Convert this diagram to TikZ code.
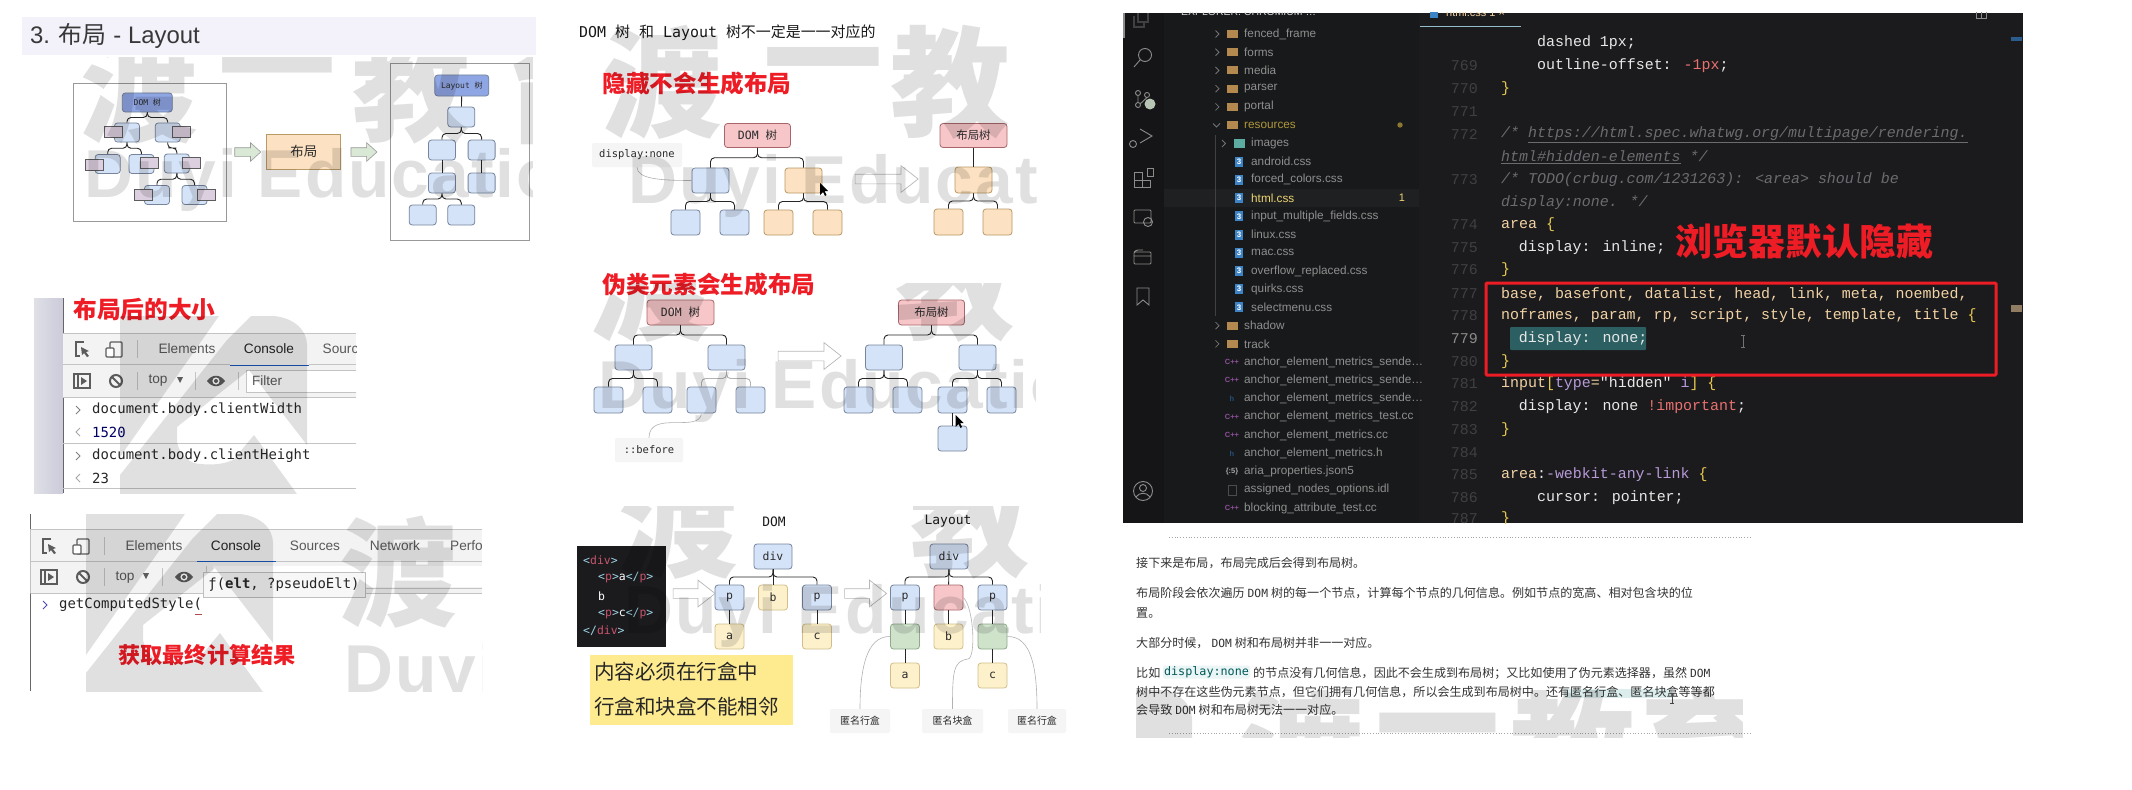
\documentclass[tikz,border=0pt]{standalone}
\usepackage{fontspec}
\setmainfont{Liberation Sans}
\setmonofont{DejaVu Sans Mono}
\newfontfamily\cjk{Noto Sans CJK SC}
\newfontfamily\cjkheavy{Noto Sans CJK SC Black}
\newfontfamily\codefont{Liberation Mono}
\newfontfamily\markfont[LetterSpace=3]{Liberation Sans}
\usetikzlibrary{calc,shapes.arrows}
\newcommand\sz[1]{\fontsize{#1}{#1}\selectfont}
\newcommand\cn[1]{{\cjk #1}}
\newcommand\dom{\hspace{3bp}{\ttfamily\sz{11.3}DOM}\hspace{3bp}}
\newcommand\sendename{anchor\_element\_metrics\_sende\ldots}
\definecolor{inkgray}{HTML}{2B2B2B}
\definecolor{barlilac}{HTML}{F3F1FA}
\definecolor{nodeblue}{HTML}{D5E3F8}
\definecolor{edgeblue}{HTML}{76849C}
\definecolor{nodedeep}{HTML}{8FA6E4}
\definecolor{nodepink}{HTML}{F6C6C8}
\definecolor{edgepink}{HTML}{A8666A}
\definecolor{nodeorange}{HTML}{FCE1C2}
\definecolor{edgeorange}{HTML}{B89A66}
\definecolor{nodeyellow}{HTML}{FDF1CC}
\definecolor{edgeyellow}{HTML}{D2BE88}
\definecolor{nodegreen}{HTML}{CFE3CB}
\definecolor{edgegreen}{HTML}{8FA98A}
\definecolor{overlaypurple}{HTML}{DCCFE0}
\definecolor{flagred}{HTML}{EE1C25}
\definecolor{toolgray}{HTML}{F3F3F3}
\definecolor{toolline}{HTML}{C4C4C4}
\definecolor{tabblue}{HTML}{1A55B8}
\definecolor{iconink}{HTML}{5C5C5C}
\definecolor{darkbg}{HTML}{1B1B1D}
\definecolor{darkside}{HTML}{18191B}
\definecolor{darkactivity}{HTML}{151517}
\definecolor{sidetext}{HTML}{8F8F8F}
\definecolor{foldertan}{HTML}{B4894F}
\definecolor{cssblue}{HTML}{3D84C6}
\definecolor{lineno}{HTML}{404044}
\definecolor{codetan}{HTML}{F2D2A4}
\definecolor{codegold}{HTML}{E9C94E}
\definecolor{codewhite}{HTML}{E8E8E8}
\definecolor{codegray}{HTML}{6C6C70}
\definecolor{codepurple}{HTML}{B79AD8}
\definecolor{coderose}{HTML}{E8716F}
\definecolor{tagred}{HTML}{C8546E}
\definecolor{tagcyan}{HTML}{9FD6E8}
\definecolor{notepurple}{HTML}{8E4E9A}
\definecolor{notefill}{HTML}{FFEB8F}
\definecolor{selectteal}{HTML}{2C5F62}
\tikzset{
  boxsize/.style 2 args={minimum width=#1bp,minimum height=#2bp},
  treebox/.style={draw,rounded corners=3bp,line width=.8bp,inner sep=0pt,text=inkgray},
  bluebox/.style={treebox,fill=nodeblue,draw=edgeblue},
  deepbox/.style={treebox,fill=nodedeep,draw=edgeblue},
  pinkbox/.style={treebox,fill=nodepink,draw=edgepink},
  orangebox/.style={treebox,fill=nodeorange,draw=edgeorange},
  yellowbox/.style={treebox,fill=nodeyellow,draw=edgeyellow},
  greenbox/.style={treebox,fill=nodegreen,draw=edgegreen},
  purplebox/.style={draw=iconink,line width=.6bp,fill=overlaypurple,inner sep=0pt},
  framebox/.style={draw=black!40,line width=.7bp,inner sep=0pt},
  tag/.style={fill=black!4,rounded corners=2bp,inner sep=0pt,text=inkgray},
  treelink/.style={draw=black!85,line width=.9bp,rounded corners=4bp},
  bus/.style={to path={(\tikztostart) |- ($(\tikztostart)!.5!(\tikztotarget)$) -| (\tikztotarget)}},
  plainlink/.style={draw=black!85,line width=.9bp},
  faintlink/.style={draw=black!30,line width=.9bp,rounded corners=4bp},
  noteline/.style={draw=black!30,line width=.6bp},
  hollowarrow/.style={single arrow,draw=black!28,fill=white,line width=.7bp,inner xsep=0pt,inner ysep=4.5bp,
    single arrow head extend=8.5bp,single arrow tip angle=76,boxsize={26}{63}},
  greenarrow/.style={single arrow,draw=black!40,fill=nodegreen!80,line width=.6bp,inner xsep=0pt,inner ysep=4bp,
    single arrow head extend=5bp,single arrow tip angle=84,boxsize={18}{26}},
  redhead/.style={text=flagred,inner sep=0pt,font=\cjkheavy\sz{#1}},
  toolword/.style={inner sep=0pt,text=black!65,font=\sz{13.7}},
  consoleline/.style={anchor=west,inner sep=0pt,text=black!85,font=\ttfamily\sz{14}},
  sidefile/.style={anchor=west,inner sep=0pt,text=sidetext,font=\sz{11.8}},
  linenum/.style={anchor=east,inner sep=0pt,text=lineno,font=\codefont\sz{15}},
  codeline/.style={anchor=west,inner sep=0pt,text=codewhite,font=\codefont\sz{15}},
  prose/.style={anchor=west,inner sep=0pt,text=black!80,font=\cjk\sz{12.1}},
  wmglyph/.style={opacity=.12,text=black,inner sep=0pt,font=\cjkheavy\sz{#1}},
  wmword/.style={anchor=west,opacity=.12,text=black,inner sep=0pt,font=\markfont\bfseries\sz{68}},
  icon/.style={draw=iconink,line width=1.1bp},
  darkicon/.style={draw=black!45,line width=.9bp},
  inspecticon/.pic={
    \draw[icon] (1,-7) -- (-7,-7) -- (-7,7) -- (-3,7);
    \fill[iconink] (-2,-2) -- (6,2) -- (3,3) -- (6,7) -- (4,8) -- (1,4) -- (-1,6) -- cycle;},
  deviceicon/.pic={
    \draw[icon,rounded corners=1bp] (-4,-7) rectangle (8,8);
    \draw[icon,fill=white,rounded corners=1bp] (-8,-1) rectangle (0,8);},
  panelicon/.pic={
    \draw[icon] (-8,-7) rectangle (8,7);
    \draw[icon] (-4,-7) -- (-4,7);
    \fill[iconink] (-1,-4) -- (5,0) -- (-1,4) -- cycle;},
  blockicon/.pic={
    \draw[iconink,line width=2bp] (0,0) circle (6bp);
    \draw[iconink,line width=2bp] (-4,-4) -- (4,4);},
  eyeicon/.pic={
    \fill[iconink] (-9,0) .. controls (-4,-7) and (4,-7) .. (9,0) .. controls (4,7) and (-4,7) .. (-9,0) -- cycle;
    \fill[white] (0,0) circle (3.6bp);
    \fill[iconink] (0,0) circle (2bp);},
  logomark/.pic={
    \fill[black,opacity=.12] (0,0) -- (99,0) -- (0,141) -- cycle;
    \fill[black,opacity=.12] (0,159) -- (107,24) -- (131,0) -- (154,0)
      .. controls (174,2) and (187,14) .. (187,29) -- (187,129) -- (129,54) -- (57,111) -- (57,126)
      .. controls (60,140) and (70,148) .. (81,148) .. controls (100,150) and (112,145) .. (114,143)
      -- (134,119) -- (177,178) -- (0,178) -- cycle;},
}
\begin{document}
\begin{tikzpicture}[x=1bp,y=-1bp]
  \useasboundingbox (0,0) rectangle (2132,790);
  \fill[white] (0,0) rectangle (2132,790);

  % layout overview
  \node[fill=barlilac,inner sep=0pt,boxsize={514}{38}] (titlebar) at (279,36) {};
  \node[anchor=west,inner sep=0pt,text=black!78,font=\sz{24}] (titletext) at (30,36) {3. \cn{布局} - Layout};
  \node[framebox,boxsize={153}{138}] (frameA) at (149.5,152) {};
  \node[framebox,boxsize={139}{177}] (frameB) at (459.5,151.5) {};
  \node[deepbox,boxsize={50}{19},font=\ttfamily\sz{8}] (domA) at (147.3,102.5) {DOM \cn{树}};
  \foreach \n/\x/\y in {a1/127/132.5,a2/167.7/132.5,a3/107.7/164,a4/141.4/164,a5/176.8/163.5,a6/157/195,a7/194.5/195}
    \node[bluebox,boxsize={25}{19}] (\n) at (\x,\y) {};
  \foreach \p/\c in {domA/a1,domA/a2,a1/a3,a1/a4,a2/a5,a5/a6,a5/a7}
    \draw[treelink] (\p.south) to[bus] (\c.north);
  \foreach \n/\x/\y in {m1/113/131.5,m2/181.6/131.5,m3/93.8/165,m4/149.5/163,m5/191.2/163,m6/143/195,m7/206.3/195}
    \node[purplebox,boxsize={18}{11}] (\n) at (\x,\y) {};
  \node[greenarrow] (flowA) at (245.4,152) {};
  \node[orangebox,rounded corners=0pt,boxsize={74}{35},font=\cjk\sz{13.5}] (layoutbox) at (303.8,151.5) {布局};
  \node[greenarrow] (flowB) at (361.6,152) {};
  \node[deepbox,boxsize={54}{21},font=\ttfamily\sz{8}] (layA) at (461.8,85.5) {Layout \cn{树}};
  \foreach \n/\x/\y in {b1/461.3/117,b2/442/150,b3/481.6/150,b4/442/183,b5/481.6/183,b6/422.7/215,b7/461.3/215}
    \node[bluebox,boxsize={27}{20}] (\n) at (\x,\y) {};
  \foreach \p/\c in {b1/b2,b1/b3,b4/b6,b4/b7}
    \draw[treelink] (\p.south) to[bus] (\c.north);
  \foreach \p/\c in {layA/b1,b2/b4,b3/b5}
    \draw[plainlink] (\p) -- (\c);

  % first console
  \fill[left color=blue!12!gray!22,right color=blue!18!gray!35] (34,298) rectangle (63,493);
  \draw[black!60,line width=.8bp] (63,298) -- (63,493);
  \node[redhead=23.8] (sizehead) at (144.5,309) {布局后的大小};
  \begin{scope}
    \clip (63,320) rectangle (356,493);
    \fill[toolgray] (63,333) rectangle (356,397);
    \draw[toolline,line width=.7bp] (63,333) -- (356,333) (63,397) -- (356,397) (63,443) -- (356,443) (63,488) -- (356,488);
    \draw[toolline,line width=.7bp] (63,364) -- (230,364) (309,364) -- (356,364);
    \fill[white,draw=toolline,line width=.5bp] (246,370) rectangle (364,392);
    \draw[tabblue,line width=1bp] (230,365) -- (309,365);
    \pic at (83,349) {inspecticon};
    \pic at (114,349) {deviceicon};
    \pic at (82,381) {panelicon};
    \pic at (116,381) {blockicon};
    \pic at (216,381) {eyeicon};
    \draw[toolline,line width=.8bp] (137,340) -- (137,358) (137,372) -- (137,390) (195,372) -- (195,390) (238,372) -- (238,390);
    \node[toolword] (tabElems) at (187,349) {Elements};
    \node[toolword,text=black!85] (tabCons) at (269,349) {Console};
    \node[toolword,anchor=west] (tabSrc) at (322.5,349) {Sources};
    \node[toolword] (topword) at (158,381) {top};
    \fill[iconink] (177,377) -- (183,377) -- (180,383) -- cycle;
    \node[toolword,anchor=west,font=\sz{13.5}] (filterword) at (252,381) {Filter};
    \node[consoleline] (rowW) at (92,410) {document.body.clientWidth};
    \node[consoleline,text=blue!40!black] (valW) at (92,432) {1520};
    \node[consoleline] (rowH) at (92,456) {document.body.clientHeight};
    \node[consoleline] (valH) at (92,478) {23};
    \draw[black!50,line width=1bp] (76,406) -- (80,410) -- (76,414) (76,452) -- (80,456) -- (76,460);
    \draw[black!35,line width=1bp] (80,428) -- (76,432) -- (80,436) (80,474) -- (76,478) -- (80,482);
  \end{scope}

  % second console
  \draw[black!60,line width=.8bp] (30.4,514) -- (30.4,691);
  \begin{scope}
    \clip (30.4,514) rectangle (482,691);
    \fill[toolgray] (30.4,529) rectangle (482,593);
    \draw[toolline,line width=.7bp] (30.4,529) -- (482,529) (30.4,593) -- (482,593) (30.4,561) -- (197,561) (276,561) -- (482,561) (365,588) -- (482,588);
    \fill[white] (213,566) rectangle (482,587);
    \draw[tabblue,line width=1bp] (197,561) -- (276,561);
    \pic at (50,546) {inspecticon};
    \pic at (81,546) {deviceicon};
    \pic at (49,577) {panelicon};
    \pic at (83,577) {blockicon};
    \pic at (184,577) {eyeicon};
    \draw[toolline,line width=.8bp] (104,537) -- (104,555) (104,568) -- (104,586) (162,568) -- (162,586) (206,566) -- (206,572);
    \node[toolword] (tabElemsB) at (154,546) {Elements};
    \node[toolword,text=black!85] (tabConsB) at (236,546) {Console};
    \node[toolword] (tabSrcB) at (315,546) {Sources};
    \node[toolword] (tabNetB) at (395,546) {Network};
    \node[toolword,anchor=west] (tabPerfB) at (450,546) {Performance};
    \node[toolword] (topwordB) at (125,577) {top};
    \fill[iconink] (143,573) -- (149,573) -- (146,579) -- cycle;
    \node[consoleline] (rowGet) at (59,605) {getComputedStyle(};
    \draw[blue!40!gray,line width=1bp] (43,601) -- (47,605) -- (43,609);
    \draw[red!40!gray,line width=.7bp] (195,614) -- (202,614);
    \node[draw=black!25,fill=black!3,line width=.8bp,inner sep=0pt,boxsize={162}{25},consoleline,anchor=center,font=\ttfamily\sz{14}] (ttip) at (284,584.5) {ƒ(\textbf{elt}, ?pseudoElt)};
    \node[redhead=22.2] (gethead) at (207,655) {获取最终计算结果};
  \end{scope}

  % hidden nodes
  \node[anchor=west,inner sep=0pt,text=black!90,font=\ttfamily\sz{15}] (headline) at (579,33) {DOM \cn{树} \cn{和} Layout \cn{树不一定是一一对应的}};
  \node[redhead=23.7] (hidehead) at (697,84) {隐藏不会生成布局};
  \node[pinkbox,boxsize={66}{24},font=\ttfamily\sz{11.5}] (domH) at (757.5,135.5) {DOM \cn{树}};
  \node[bluebox,boxsize={37}{25}] (h1) at (710.5,180.5) {};
  \node[orangebox,boxsize={37}{25}] (h2) at (803.5,180.5) {};
  \node[bluebox,boxsize={29}{25}] (h3) at (685.5,222.5) {};
  \node[bluebox,boxsize={29}{25}] (h4) at (734.5,222.5) {};
  \node[orangebox,boxsize={29}{25}] (h5) at (778.5,222.5) {};
  \node[orangebox,boxsize={29}{25}] (h6) at (827.5,222.5) {};
  \foreach \p/\c in {domH/h1,domH/h2,h1/h3,h1/h4,h2/h5,h2/h6}
    \draw[treelink] (\p.south) to[bus] (\c.north);
  \node[tag,boxsize={90}{24},font=\ttfamily\sz{10.5}] (nonetag) at (637,155) {display:none};
  \draw[noteline] (nonetag.south) .. controls +(0,12) and +(-30,0) .. (h1.west);
  \node[hollowarrow] (hideflow) at (883.5,179) {};
  \node[pinkbox,boxsize={67}{24},font=\cjk\sz{11.5}] (treeH) at (973.5,135.5) {布局树};
  \node[orangebox,boxsize={37}{26}] (j1) at (973.5,180) {};
  \node[orangebox,boxsize={29}{26}] (j2) at (948.5,222) {};
  \node[orangebox,boxsize={29}{26}] (j3) at (997.5,222) {};
  \draw[plainlink] (treeH) -- (j1);
  \foreach \c in {j2,j3}
    \draw[treelink] (j1.south) to[bus] (\c.north);
  \fill[black] (820,183) -- (820,195) -- (823,192) -- (825,196) -- (826.5,195) -- (824.5,191) -- (828,191) -- cycle;

  % pseudo elements
  \node[redhead=23.7] (pseudohead) at (709,285) {伪类元素会生成布局};
  \node[pinkbox,boxsize={67}{25},font=\ttfamily\sz{11.5}] (domP) at (680.5,312.5) {DOM \cn{树}};
  \foreach \n/\x in {f1/633.5,f2/726.5}
    \node[bluebox,boxsize={37}{25}] (\n) at (\x,357.5) {};
  \foreach \n/\x in {f3/608.5,f4/657.5,f5/701.5,f6/750.5}
    \node[bluebox,boxsize={29}{26}] (\n) at (\x,400) {};
  \foreach \p/\c in {domP/f1,domP/f2,f1/f3,f1/f4}
    \draw[treelink] (\p.south) to[bus] (\c.north);
  \foreach \c in {f5,f6}
    \draw[faintlink] (f2.south) to[bus] (\c.north);
  \node[tag,boxsize={68}{24},font=\ttfamily\sz{10.5}] (beforetag) at (649,450) {::before};
  \draw[noteline] (beforetag.north) .. controls +(0,-28) and +(-2,20) .. (f5.south);
  \node[hollowarrow] (pseudoflow) at (806.5,356) {};
  \node[pinkbox,boxsize={66}{25},font=\cjk\sz{11.5}] (treeP) at (931.5,312.5) {布局树};
  \foreach \n/\x in {g1/884,g2/977.5}
    \node[bluebox,boxsize={37}{25}] (\n) at (\x,357.5) {};
  \foreach \n/\x in {g3/858.5,g4/907.5,g5/952.5,g6/1001.5}
    \node[bluebox,boxsize={29}{26}] (\n) at (\x,400) {};
  \node[bluebox,boxsize={29}{25}] (g7) at (952.5,438.5) {};
  \foreach \p/\c in {treeP/g1,treeP/g2,g1/g3,g1/g4,g2/g5,g2/g6}
    \draw[treelink] (\p.south) to[bus] (\c.north);
  \draw[plainlink] (g5) -- (g7);
  \fill[black] (955.5,415) -- (955.5,427) -- (958.5,424) -- (960.5,428) -- (962,427) -- (960,423) -- (963.5,423) -- cycle;

  % anonymous boxes
  \node[fill=darkbg,inner sep=0pt,boxsize={89}{101}] (codeblock) at (621.5,596.5) {};
  \begin{scope}[every node/.style={anchor=west,inner sep=0pt,text=white,font=\ttfamily\sz{11.5}}]
    \node (src1) at (583,560) {\textcolor{tagcyan}{<}\textcolor{tagred}{div}\textcolor{tagcyan}{>}};
    \node (src2) at (598,578) {\textcolor{tagcyan}{<}\textcolor{tagred}{p}\textcolor{tagcyan}{>}a\textcolor{tagcyan}{</}\textcolor{tagred}{p}\textcolor{tagcyan}{>}};
    \node (src3) at (598,596) {b};
    \node (src4) at (598,614) {\textcolor{tagcyan}{<}\textcolor{tagred}{p}\textcolor{tagcyan}{>}c\textcolor{tagcyan}{</}\textcolor{tagred}{p}\textcolor{tagcyan}{>}};
    \node (src5) at (583,631) {\textcolor{tagcyan}{</}\textcolor{tagred}{div}\textcolor{tagcyan}{>}};
  \end{scope}
  \node[inner sep=0pt,text=black!90,font=\ttfamily\sz{13}] (domword) at (774,522) {DOM};
  \node[inner sep=0pt,text=black!90,font=\ttfamily\sz{13}] (layword) at (948,521) {Layout};
  \begin{scope}[every node/.append style={font=\ttfamily\sz{11.5}}]
    \node[bluebox,boxsize={38}{25}] (divD) at (773,556.5) {div};
    \node[bluebox,boxsize={29}{25}] (pD1) at (729.5,597.5) {p};
    \node[yellowbox,boxsize={29}{25}] (bD) at (773,597.5) {b};
    \node[bluebox,boxsize={29}{25}] (pD2) at (817,597.5) {p};
    \node[yellowbox,boxsize={29}{25}] (aD) at (729.5,636.5) {a};
    \node[yellowbox,boxsize={29}{25}] (cD) at (817,636.5) {c};
    \draw[plainlink] (divD) -- (bD);
    \foreach \c in {pD1,pD2}
      \draw[treelink] (divD.south) to[bus] (\c.north);
    \foreach \p/\c in {pD1/aD,pD2/cD}
      \draw[plainlink] (\p) -- (\c);
    \node[hollowarrow,boxsize={26}{42}] (anonflowA) at (691,593.5) {};
    \node[hollowarrow,boxsize={26}{42}] (anonflowB) at (862.5,593.5) {};
    \node[bluebox,boxsize={38}{25}] (divL) at (949,556.5) {div};
    \node[bluebox,boxsize={29}{25}] (pL1) at (905,597.5) {p};
    \node[pinkbox,boxsize={29}{25}] (anonB) at (948.5,597.5) {};
    \node[bluebox,boxsize={29}{25}] (pL2) at (992.5,597.5) {p};
    \node[greenbox,boxsize={29}{25}] (anonL1) at (905,636.5) {};
    \node[yellowbox,boxsize={29}{25}] (bL) at (948.5,636.5) {b};
    \node[greenbox,boxsize={29}{25}] (anonL2) at (992.5,636.5) {};
    \node[yellowbox,boxsize={29}{25}] (aL) at (905,675.5) {a};
    \node[yellowbox,boxsize={29}{25}] (cL) at (992.5,675.5) {c};
    \draw[plainlink] (divL) -- (anonB);
    \foreach \c in {pL1,pL2}
      \draw[treelink] (divL.south) to[bus] (\c.north);
    \foreach \p/\c in {pL1/anonL1,anonL1/aL,anonB/bL,pL2/anonL2,anonL2/cL}
      \draw[plainlink] (\p) -- (\c);
  \end{scope}
  \node[tag,boxsize={60}{24},font=\cjk\sz{10}] (anonTagA) at (860,721) {匿名行盒};
  \node[tag,boxsize={61}{24},font=\cjk\sz{10}] (anonTagB) at (952.5,721) {匿名块盒};
  \node[tag,boxsize={58}{24},font=\cjk\sz{10}] (anonTagC) at (1037,721) {匿名行盒};
  \coordinate (anonbend) at (968,659);
  \draw[noteline] (anonTagA.north) .. controls (860,670) and (866,636) .. (anonL1.west);
  \draw[noteline] (anonTagB.north) .. controls (952.5,672) and (953,661) .. (anonbend) .. controls (976,658) and (974,608) .. (anonB.east);
  \draw[noteline] (anonTagC.north) .. controls (1037,670) and (1032,636) .. (anonL2.east);
  \node[fill=notefill,inner sep=0pt,boxsize={203}{70}] (rulenote) at (691.5,690) {};
  \node[anchor=west,inner sep=0pt,text=black!85,font=\cjk\sz{20.6}] (ruleA) at (594,672) {内容必须在行盒中};
  \node[anchor=west,inner sep=0pt,text=black!85,font=\cjk\sz{20.6}] (ruleB) at (594,707) {行盒和块盒不能相邻};

  % editor window
  \fill[darkbg] (1123,13) rectangle (2023,523);
  \fill[darkside] (1164,13) rectangle (1419,523);
  \fill[darkactivity] (1123,13) rectangle (1164,523);
  \fill[black!45] (1123,13) rectangle (1125,38);
  \fill[white,opacity=.03] (1164,189) rectangle (1419,207);
  \begin{scope}
    \clip (1123,13) rectangle (2023,523);
    \node[anchor=west,inner sep=0pt,text=black!15,font=\sz{10.5}] (explorer) at (1181,12) {EXPLORER: CHROMIUM \ldots};
    \node[anchor=west,inner sep=0pt,text=codetan,font=\sz{11}] (tabname) at (1446,13) {html.css 1 ×};
    \fill[cssblue] (1430,9) rectangle (1438,18);
    \draw[tagcyan!70!gray,line width=1bp] (1420,27) -- (1521,27);
    \draw[darkicon] (1976,10) rectangle (1986,18) (1981,10) -- (1981,18);
    % activity icons
    \draw[black!75,line width=1.2bp] (1138,13) -- (1138,22) -- (1148,22) -- (1148,13) (1134,16) -- (1134,27) -- (1144,27) -- (1144,22);
    \draw[darkicon] (1145,55) circle (6.5bp) (1140,60) -- (1134,67);
    \draw[darkicon] (1138,93) circle (2.5bp) (1138,105) circle (2.5bp) (1147,95) circle (2.5bp) (1138,95.5) -- (1138,102.5) (1147,97.5) -- (1140,104);
    \fill[nodegreen!70!gray] (1150,104) circle (5.5bp);
    \draw[darkicon] (1140,129) -- (1152,136) -- (1140,143) (1133,144) circle (3.5bp);
    \draw[darkicon] (1134,172) rectangle (1142,180) (1134,180) rectangle (1142,187) (1142,180) rectangle (1150,187) (1147,168) rectangle (1153,176);
    \draw[darkicon,rounded corners=1bp] (1134,210) rectangle (1151,223) (1148,222) circle (4.5bp);
    \draw[darkicon,rounded corners=1bp] (1134,252) rectangle (1151,264) (1134,256) -- (1151,256) (1134,252) -- (1137,250) -- (1143,250);
    \draw[darkicon] (1137,288) -- (1137,305) -- (1143,300) -- (1149,305) -- (1149,288) -- cycle;
    \draw[darkicon] (1143,491) circle (9.5bp) (1143,488) circle (3.5bp) (1136,497) .. controls (1139,492) and (1147,492) .. (1150,497);
    % file tree
    \draw[black!75,line width=.5bp] (1215,135) -- (1215,316);
    \foreach \i/\t in {0/fenced\_frame,1/forms,2/media,3/parser,4/portal,16/shadow,17/track}{
      \node[sidefile] (dir\i) at (1244,{34+18.23*\i}) {\t};
      \draw[black!55,line width=.8bp] (1215.5,{30.5+18.23*\i}) -- (1219,{34+18.23*\i}) -- (1215.5,{37.5+18.23*\i});
      \fill[foldertan] (1227,{30+18.23*\i}) rectangle (1238,{38+18.23*\i});
    }
    \node[sidefile,text=codegold!75!black] (dirRes) at (1244,125) {resources};
    \draw[black!55,line width=.8bp] (1213,123.5) -- (1216.5,127) -- (1220,123.5);
    \fill[foldertan] (1227,121) rectangle (1238,129);
    \fill[codegold!60!black] (1400,125) circle (2.7bp);
    \node[sidefile] (dirImg) at (1251,143.5) {images};
    \draw[black!55,line width=.8bp] (1222,140) -- (1225.5,143.5) -- (1222,147);
    \fill[nodegreen!45!teal] (1234,139) rectangle (1245,148);
    \foreach \i/\t in {7/android.css,8/forced\_colors.css,10/input\_multiple\_fields.css,11/linux.css,12/mac.css,13/overflow\_replaced.css,14/quirks.css,15/selectmenu.css}{
      \node[sidefile] (css\i) at (1251,{34+18.23*\i}) {\t};
      \node[fill=cssblue,inner sep=0pt,boxsize={8}{10},text=white,font=\bfseries\sz{8}] (cssicon\i) at (1239,{34+18.23*\i}) {3};
    }
    \node[sidefile,text=codegold!80!white] (cssHtml) at (1251,198) {html.css};
    \node[fill=cssblue,inner sep=0pt,boxsize={8}{10},text=white,font=\bfseries\sz{8}] (cssiconHtml) at (1239,198) {3};
    \node[inner sep=0pt,text=codegold!80!white,font=\sz{11}] (errcount) at (1402,198) {1};
    \foreach \i/\t/\g/\c in {18/\sendename/C++/notepurple,19/\sendename/C++/notepurple,20/\sendename/h/cssblue!60!black,21/anchor\_element\_metrics\_test.cc/C++/notepurple,22/anchor\_element\_metrics.cc/C++/notepurple,23/anchor\_element\_metrics.h/h/cssblue!60!black,24/aria\_properties.json5/\{:5\}/black!35,26/blocking\_attribute\_test.cc/C++/notepurple}{
      \node[sidefile] (file\i) at (1244,{34+18.23*\i}) {\t};
      \node[inner sep=0pt,text=\c,font=\bfseries\sz{7.5}] (fileicon\i) at (1232,{34+18.23*\i}) {\g};
    }
    \node[sidefile] (file25) at (1244,489.8) {assigned\_nodes\_options.idl};
    \draw[darkicon,black!70] (1228,485) rectangle (1236,495);
    % line numbers
    \foreach \n/\y in {769/66,770/89,771/112,772/135,773/180,774/225,775/248,776/270,777/294,778/316,780/362,781/384,782/407,783/430,784/453,785/475,786/498,787/519}
      \node[linenum] (num\n) at (1478,\y) {\n};
    \node[linenum,text=black!45] (num779) at (1478,339) {779};
    % selected line
    \fill[selectteal,rounded corners=1bp] (1510,327) rectangle (1646,350);
    \node[codeline] (code0) at (1537,43) {dashed 1px;};
    \node[codeline] (code769) at (1537,66) {outline-offset: \textcolor{coderose}{-1px};};
    \node[codeline,text=codegold] (code770) at (1501,89) {\}};
    \node[codeline,text=codegray,font=\codefont\itshape\sz{15}] (code772) at (1501,135) {/* \underline{https://html.spec.whatwg.org/multipage/rendering.}};
    \node[codeline,text=codegray,font=\codefont\itshape\sz{15}] (code772b) at (1501,157) {\underline{html\#hidden-elements} */};
    \node[codeline,text=codegray,font=\codefont\itshape\sz{15}] (code773) at (1501,180) {/* TODO(crbug.com/1231263): <area> should be};
    \node[codeline,text=codegray,font=\codefont\itshape\sz{15}] (code773b) at (1501,203) {display:none. */};
    \node[codeline,text=codetan] (code774) at (1501,225) {area \textcolor{codegold}{\{}};
    \node[codeline] (code775) at (1518.6,248) {display: inline;};
    \node[codeline,text=codegold] (code776) at (1501,270) {\}};
    \node[codeline,text=codetan] (code777) at (1501,294) {base, basefont, datalist, head, link, meta, noembed,};
    \node[codeline,text=codetan] (code778) at (1501,316) {noframes, param, rp, script, style, template, title \textcolor{codegold}{\{}};
    \node[codeline] (code779) at (1518.6,339) {display: none;};
    \node[codeline,text=codegold] (code780) at (1501,362) {\}};
    \node[codeline,text=codetan] (code781) at (1501,384) {input\textcolor{codegold}{[}\textcolor{codepurple}{type}=\textcolor{codewhite}{"hidden"} \textcolor{codepurple}{i}\textcolor{codegold}{] \{}};
    \node[codeline] (code782) at (1518.6,407) {display: none \textcolor{coderose}{!important};};
    \node[codeline,text=codegold] (code783) at (1501,430) {\}};
    \node[codeline,text=codetan] (code785) at (1501,475) {area\textcolor{codewhite}{:}\textcolor{codepurple}{-webkit-any-link} \textcolor{codegold}{\{}};
    \node[codeline] (code786) at (1537,498) {cursor: pointer;};
    \node[codeline,text=codegold] (code787) at (1501,519) {\}};
    \draw[black!55,line width=.9bp] (1741,335) -- (1745,335) (1743,335) -- (1743,347) (1741,347) -- (1745,347);
    \fill[cssblue!70!black] (2011,37) rectangle (2022,41);
    \fill[codetan!60!black] (2011,305) rectangle (2022,312);
  \end{scope}
  \node[draw=flagred,line width=3bp,rounded corners=1bp,inner sep=0pt,boxsize={510}{92}] (hiddenbox) at (1741,329) {};
  \node[redhead=37] (defaulthead) at (1804,242) {浏览器默认隐藏};

  % article text
  \draw[black!35,line width=.8bp,dotted] (1169,537) -- (1750,537);
  \node[prose] (para1) at (1136,563) {接下来是布局，布局完成后会得到布局树。};
  \node[prose] (para2) at (1136,593) {布局阶段会依次遍历\dom 树的每一个节点，计算每个节点的几何信息。例如节点的宽高、相对包含块的位};
  \node[prose] (para2b) at (1136,613) {置。};
  \node[prose] (para3) at (1136,643) {大部分时候，\dom 树和布局树并非一一对应。};
  \node[prose] (para4a) at (1136,673) {比如};
  \node[fill=teal!8,rounded corners=2bp,inner sep=0pt,boxsize={87}{13},text=teal!70!black,font=\ttfamily\sz{11.8}] (nonecode) at (1206.5,672) {display:none};
  \node[prose] (para4b) at (1253,673) {的节点没有几何信息，因此不会生成到布局树；又比如使用了伪元素选择器，虽然\dom};
  \fill[teal!14] (1564,689) rectangle (1672,698);
  \node[prose] (para5) at (1136,692) {树中不存在这些伪元素节点，但它们拥有几何信息，所以会生成到布局树中。还有匿名行盒、匿名块盒等等都};
  \node[prose] (para6) at (1136,710) {会导致\dom 树和布局树无法一一对应。};
  \draw[black!70,line width=.6bp] (1670,693) -- (1674,693) (1672,693) -- (1672,703) (1670,703) -- (1674,703);
  \draw[black!35,line width=.8bp,dotted] (1169,733) -- (1750,733);

  % watermark
  \begin{scope}
    \clip (15,58) rectangle (532,240);
    \node[wmglyph=118] (wmA1) at (139,88) {渡};
    \node[wmglyph=118] (wmA2) at (277,82) {一};
    \node[wmglyph=118] (wmA3) at (411,88) {教};
    \node[wmglyph=118] (wmA4) at (560,88) {育};
    \node[wmword] (wmAw) at (84,180) {Duyi Education};
  \end{scope}
  \begin{scope}
    \clip (578,14) rectangle (1040,240);
    \node[wmglyph=120] (wmB1) at (662,82) {渡};
    \node[wmglyph=120] (wmB2) at (823,75) {一};
    \node[wmglyph=120] (wmB3) at (950,82) {教};
    \node[wmword] (wmBw) at (628,186) {Duyi Education};
  \end{scope}
  \begin{scope}
    \clip (578,283) rectangle (1035,440);
    \node[wmglyph=120] (wmC1) at (650,285) {渡};
    \node[wmglyph=120] (wmC2) at (795,278) {一};
    \node[wmglyph=120] (wmC3) at (955,285) {教};
    \node[wmword] (wmCw) at (598,391) {Duyi Education};
  \end{scope}
  \begin{scope}
    \clip (578,506) rectangle (1040,650);
    \node[wmglyph=120] (wmD1) at (678,522) {渡};
    \node[wmglyph=120] (wmD2) at (825,515) {一};
    \node[wmglyph=120] (wmD3) at (970,522) {教};
    \node[wmword] (wmDw) at (624,616) {Duyi Education};
  \end{scope}
  \begin{scope}
    \clip (34,298) rectangle (356,493);
    \pic at (120,316) {logomark};
  \end{scope}
  \begin{scope}
    \clip (30.4,514) rectangle (482,691);
    \pic at (86,514) {logomark};
    \node[wmglyph=118] (wmE1) at (398,572) {渡};
    \node[wmword] (wmEw) at (344,675) {Duyi Education};
  \end{scope}
  \begin{scope}
    \clip (1136,690) rectangle (1742,737);
    \pic at (1005,690) {logomark};
    \node[wmglyph=125] (wmF1) at (1302,748) {渡};
    \node[wmglyph=125] (wmF2) at (1438,742) {一};
    \node[wmglyph=125] (wmF3) at (1573,748) {教};
    \node[wmglyph=125] (wmF4) at (1703,748) {育};
  \end{scope}
\end{tikzpicture}
\end{document}
